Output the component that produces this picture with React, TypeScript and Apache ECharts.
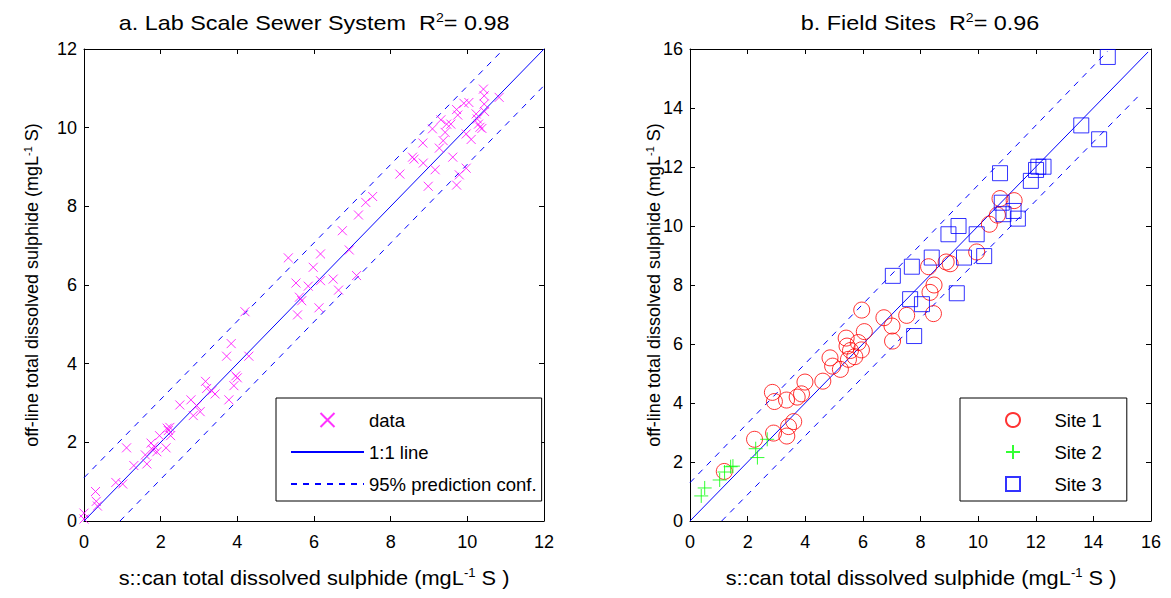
import React, { useEffect, useRef } from "react";
import * as echarts from "echarts";

// ---- Data ----
const labData: number[][] = [
  [0.0, 0.2], [0.0, 0.05], [0.3, 0.75], [0.32, 0.5], [0.35, 0.38], [0.83, 0.98], [1.01, 0.94],
  [1.11, 1.86], [1.3, 1.41], [1.6, 1.68], [1.64, 1.45], [1.75, 1.98], [1.79, 1.81], [1.83, 1.9],
  [1.9, 1.76], [1.97, 2.17], [2.14, 1.86], [2.17, 2.36], [2.24, 2.38], [2.26, 2.17], [2.2, 2.3],
  [2.5, 2.95], [2.79, 3.08], [2.85, 2.68], [2.94, 2.93], [3.03, 2.78], [3.17, 3.55], [3.2, 3.37],
  [3.33, 3.31], [3.42, 3.23], [3.78, 3.08], [3.72, 4.19], [3.84, 4.51], [3.91, 3.44], [3.96, 3.69],
  [4.0, 3.64], [4.3, 4.19], [4.2, 5.32], [5.33, 6.69], [5.57, 5.24], [5.53, 6.05], [5.68, 5.6],
  [5.62, 5.69], [5.85, 5.97], [5.98, 6.45], [6.17, 6.79], [6.13, 5.42], [6.17, 6.11], [6.5, 6.15],
  [6.64, 5.87], [6.74, 7.38], [6.92, 6.89], [7.11, 6.24], [7.16, 7.78], [7.35, 8.1], [7.53, 8.25],
  [8.24, 8.82], [8.57, 9.25], [8.61, 9.2], [8.85, 9.1], [8.84, 9.61], [8.98, 8.51], [9.09, 9.97],
  [9.16, 8.93], [9.27, 9.48], [9.31, 10.2], [9.37, 9.67], [9.42, 9.88], [9.46, 10.09], [9.57, 10.09],
  [9.62, 9.25], [9.72, 10.46], [9.75, 10.32], [9.72, 8.54], [9.79, 8.8], [9.97, 8.97], [9.91, 10.62],
  [10.04, 10.64], [9.97, 9.84], [10.1, 9.7], [10.26, 10.22], [10.23, 10.35], [10.29, 10.09],
  [10.33, 10.01], [10.38, 9.98], [10.42, 10.98], [10.44, 10.81], [10.44, 10.6], [10.45, 10.41],
  [10.83, 10.77],
];
const labOneToOne: number[][] = [[0, 0], [12, 12]];
const labUpper: number[][] = [[0, 1.1], [10.95, 12]];
const labLower: number[][] = [[0.94, 0], [12, 11.07]];

const site1: number[][] = [
  [1.19, 1.68], [2.24, 2.77], [2.9, 2.98], [3.36, 2.88], [3.42, 3.2], [3.6, 3.37], [2.86, 4.36],
  [2.93, 4.05], [3.35, 4.1], [3.72, 4.2], [3.87, 4.31], [3.99, 4.71], [4.61, 4.74], [4.86, 5.53],
  [4.95, 5.25], [5.22, 5.14], [5.42, 6.2], [5.45, 5.93], [5.57, 5.78], [5.5, 5.48], [5.72, 5.57],
  [5.84, 6.05], [5.95, 5.8], [6.05, 6.42], [5.96, 7.15], [6.73, 6.89], [7.01, 6.61], [7.03, 6.1],
  [7.52, 6.97], [8.45, 7.03], [8.33, 7.75], [8.47, 8.0], [8.28, 8.62], [8.89, 8.78], [9.03, 8.72],
  [9.95, 9.12], [10.39, 10.06], [10.67, 10.37], [10.76, 10.93], [11.25, 10.86],
];
const site2: number[][] = [
  [0.39, 0.85], [0.51, 1.12], [1.03, 1.39], [1.2, 1.66], [1.41, 1.84], [1.49, 1.86],
  [2.28, 2.45], [2.34, 2.15], [2.68, 2.77],
];
const site3: number[][] = [
  [7.04, 8.31], [7.7, 8.62], [7.78, 6.27], [7.64, 7.52], [8.05, 7.35], [8.39, 8.93], [8.97, 9.72],
  [9.32, 10.0], [9.26, 7.72], [9.51, 8.93], [9.95, 9.72], [10.21, 8.98], [10.76, 11.79],
  [10.82, 10.79], [10.88, 10.4], [11.23, 10.51], [11.38, 10.25], [11.83, 11.53], [12.01, 11.9],
  [12.09, 12.01], [12.27, 12.01], [13.58, 13.41], [14.2, 12.94], [14.5, 15.73],
];
const fieldOneToOne: number[][] = [[0, 0], [15.9, 15.9]];
const fieldUpper: number[][] = [[0, 1.3], [14.5, 15.93]];
const fieldLower: number[][] = [[1.1, 0], [15.68, 14.52]];

const labAxis = { min: 0, max: 12, interval: 2 };
const fieldAxis = { min: 0, max: 16, interval: 2 };

const labLegend = ["data", "1:1 line", "95% prediction conf."];
const fieldLegend = ["Site 1", "Site 2", "Site 3"];

const titleA = ["a. Lab Scale Sewer System  R", "2", "= 0.98"];
const titleB = ["b. Field Sites  R", "2", "= 0.96"];
const xName = ["s::can total dissolved sulphide (mgL", "-1", " S )"];
const yName = ["off-line total dissolved sulphide (mgL", "-1", " S)"];

const FONT = "Liberation Sans, Arial, Helvetica, sans-serif";
const X_PATH = "path://M0,0L10,10M10,0L0,10";
const PLUS_PATH = "path://M5,0L5,10M0,5L10,5";
const SQUARE_PATH = "path://M0,0L10,0L10,10L0,10Z";
const BLUE = "#0000ff";

export default function App() {
  const ref = useRef<HTMLDivElement>(null);

  useEffect(() => {
    if (!ref.current) return;
    const chart = echarts.init(ref.current, undefined, { renderer: "svg" });

    const rich = {
      m: { fontSize: 18, fontFamily: FONT, color: "#000" },
      s: { fontSize: 11, fontFamily: FONT, color: "#000", verticalAlign: "top", padding: [0, 0, 9, 0] },
    };
    const richBig = {
      m: { fontSize: 20, fontFamily: FONT, color: "#000" },
      s: { fontSize: 12, fontFamily: FONT, color: "#000", verticalAlign: "top", padding: [0, 0, 10, 0] },
    };
    const rt = (p: string[]) => `{m|${p[0]}}{s|${p[1]}}{m|${p[2]}}`;

    const mkX = (grid: number, ax: any, labels: boolean) => ({
      type: "value",
      gridIndex: grid,
      position: labels ? "bottom" : "top",
      min: ax.min,
      max: ax.max,
      interval: ax.interval,
      axisLine: { show: true, onZero: false, lineStyle: { color: "#000", width: 1 } },
      axisTick: { show: true, inside: true, length: 5, lineStyle: { color: "#000" } },
      splitLine: { show: false },
      axisLabel: { show: labels, fontSize: 18, fontFamily: FONT, color: "#000", margin: 12 },
    });
    const mkY = (grid: number, ax: any, labels: boolean, gap: number) => ({
      type: "value",
      gridIndex: grid,
      position: labels ? "left" : "right",
      min: ax.min,
      max: ax.max,
      interval: ax.interval,
      axisLine: { show: true, onZero: false, lineStyle: { color: "#000", width: 1 } },
      axisTick: { show: true, inside: true, length: 5, lineStyle: { color: "#000" } },
      splitLine: { show: false },
      axisLabel: { show: labels, fontSize: 18, fontFamily: FONT, color: "#000", margin: 7 },
      name: labels ? rt(yName) : "",
      nameLocation: "middle",
      nameGap: gap,
      nameMoveOverlap: false,
      nameTextStyle: { rich },
    });

    const lineSeries = (name: string, data: number[][], xi: number, yi: number, dashed: boolean) => ({
      type: "line",
      name,
      data,
      xAxisIndex: xi,
      yAxisIndex: yi,
      symbol: "none",
      color: BLUE,
      lineStyle: { color: BLUE, width: 1, type: dashed ? [6, 6] : "solid" },
      itemStyle: { color: BLUE },
      emphasis: { disabled: true },
      z: 2,
    });
    const scatter = (name: string, data: number[][], xi: number, yi: number, symbol: string, size: number, color: string, hollow: boolean) => ({
      type: "scatter",
      name,
      data,
      xAxisIndex: xi,
      yAxisIndex: yi,
      symbol,
      symbolSize: size,
      symbolKeepAspect: true,
      color,
      itemStyle: { color: hollow ? "rgba(255,255,255,0)" : color, borderColor: color, borderWidth: 1 },
      emphasis: { disabled: true },
      z: 3,
    });

    const legendBase = {
      orient: "vertical",
      align: "left",
      itemWidth: 73,
      itemHeight: 14,
      itemGap: 12,
      borderColor: "#000",
      borderWidth: 1,
      backgroundColor: "#fff",
      selectedMode: false,
      symbolKeepAspect: true,
      textStyle: { fontSize: 18.5, fontFamily: FONT, color: "#000", lineHeight: 20 },
      z: 10,
    };
    const noDot = { color: "rgba(0,0,0,0)", borderWidth: 0 };

    chart.setOption({
      animation: false,
      backgroundColor: "#fff",
      grid: [
        { left: 84, top: 49, width: 460, height: 472, show: false },
        { left: 690, top: 49, width: 461, height: 472, show: false },
      ],
      xAxis: [mkX(0, labAxis, true), mkX(0, labAxis, false), mkX(1, fieldAxis, true), mkX(1, fieldAxis, false)],
      yAxis: [mkY(0, labAxis, true, 42), mkY(0, labAxis, false, 0), mkY(1, fieldAxis, true, 26), mkY(1, fieldAxis, false, 0)],
      legend: [
        {
          ...legendBase,
          left: 276,
          top: 398,
          padding: [12, 5, 7, 14],
          data: [
            { name: labLegend[0] },
            { name: labLegend[1], itemStyle: noDot },
            { name: labLegend[2], itemStyle: noDot },
          ],
        },
        {
          ...legendBase,
          left: 960,
          top: 398,
          padding: [12, 25, 7, 45],
          data: [
            { name: fieldLegend[0], icon: "circle" },
            { name: fieldLegend[1], icon: PLUS_PATH },
            { name: fieldLegend[2], icon: SQUARE_PATH },
          ],
        },
      ],
      graphic: [
        {
          type: "text",
          x: 314,
          y: 23,
          scaleX: 1.17,
          style: { text: rt(titleA), rich: richBig, align: "center", verticalAlign: "middle" },
        },
        {
          type: "text",
          x: 920,
          y: 23,
          scaleX: 1.17,
          style: { text: rt(titleB), rich: richBig, align: "center", verticalAlign: "middle" },
        },
        {
          type: "text",
          x: 314,
          y: 578,
          scaleX: 1.09,
          style: { text: rt(xName), rich: richBig, align: "center", verticalAlign: "middle" },
        },
        {
          type: "text",
          x: 921,
          y: 578,
          scaleX: 1.09,
          style: { text: rt(xName), rich: richBig, align: "center", verticalAlign: "middle" },
        },
      ],
      series: [
        lineSeries("1:1 line", labOneToOne, 0, 0, false),
        lineSeries("95% prediction conf.", labUpper, 0, 0, true),
        lineSeries("95% prediction conf.", labLower, 0, 0, true),
        scatter("data", labData, 0, 0, X_PATH, 9, "#ff00ff", false),
        lineSeries("field 1:1", fieldOneToOne, 2, 2, false),
        lineSeries("field upper", fieldUpper, 2, 2, true),
        lineSeries("field lower", fieldLower, 2, 2, true),
        scatter("Site 1", site1, 2, 2, "circle", 16, "#ff0000", true),
        scatter("Site 2", site2, 2, 2, PLUS_PATH, 14, "#00ff00", false),
        scatter("Site 3", site3, 2, 2, SQUARE_PATH, 15, BLUE, true),
      ],
    });

    return () => chart.dispose();
  }, []);

  return (
    <div
      ref={ref}
      style={{ position: "fixed", left: 0, top: 0, width: 1171, height: 598, background: "#fff" }}
    />
  );
}
